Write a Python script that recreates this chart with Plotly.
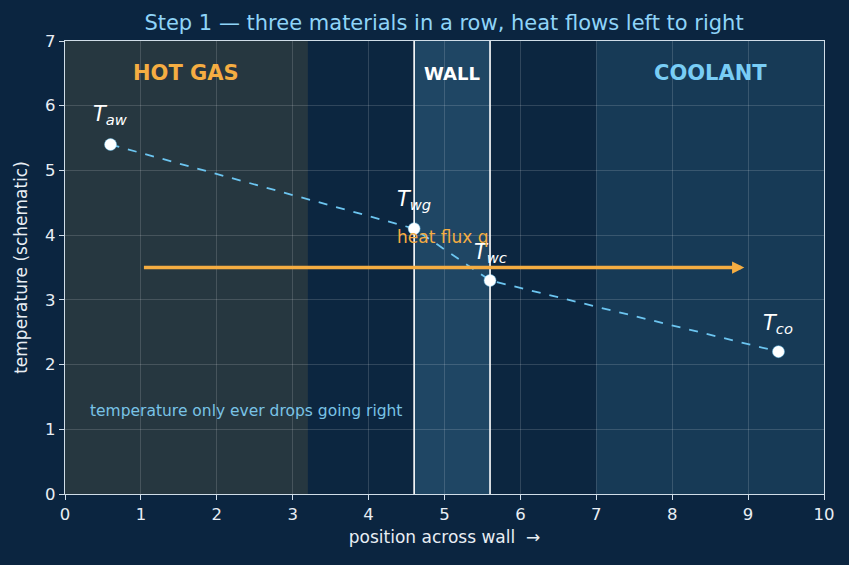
import plotly.graph_objects as go

# ---- data ----
pos_x = [0.6, 4.6, 5.6, 9.4]
temp_y = [5.4, 4.1, 3.3, 2.2]
point_labels = ["aw", "wg", "wc", "co"]
label_y = [5.85, 4.55, 3.72, 2.62]

region_x0 = [0.0, 4.6, 7.0]
region_x1 = [3.2, 5.6, 10.0]
region_names = ["HOT GAS", "WALL", "COOLANT"]
region_label_x = [1.6, 5.1, 8.5]
region_label_y = 6.5

wall_edges = [4.6, 5.6]
arrow_x = [1.02, 8.95]
arrow_y = 3.5
flux_label_pos = (4.35, 3.97)
note_pos = (0.3, 1.28)

x_ticks = list(range(0, 11))
y_ticks = list(range(0, 8))

BG = "#0b2540"
FONT = "DejaVu Sans"
fig = go.Figure()

region_fill = ["#263740", "#1f4664", "#173a56"]
region_text_color = ["#f5ad42", "#ffffff", "#79cdf5"]
region_font_size = [21, 18, 21]
for x0, x1, c in zip(region_x0, region_x1, region_fill):
    fig.add_shape(type="rect", xref="x", yref="y", x0=x0, x1=x1, y0=0, y1=7,
                  fillcolor=c, line=dict(width=0), layer="below")
for xe in wall_edges:
    fig.add_shape(type="line", xref="x", yref="y", x0=xe, x1=xe, y0=0, y1=7,
                  line=dict(color="#ffffff", width=1.6), layer="above")

fig.add_trace(go.Scatter(x=pos_x, y=temp_y, mode="lines+markers",
                         line=dict(color="#6cc5f0", width=1.8, dash="dash"),
                         marker=dict(color="#ffffff", size=12,
                                     line=dict(color="#6cc5f0", width=0.5)),
                         showlegend=False, hoverinfo="skip"))

# arrow
fig.add_annotation(x=arrow_x[1], y=arrow_y, ax=arrow_x[0], ay=arrow_y,
                   xref="x", yref="y", axref="x", ayref="y", text="",
                   showarrow=True, arrowhead=2, arrowsize=0.7, arrowwidth=3.5,
                   arrowcolor="#f5ad42")

for name, lx, tc, fs in zip(region_names, region_label_x, region_text_color, region_font_size):
    fig.add_annotation(x=lx, y=region_label_y, xref="x", yref="y",
                       text=f"<b>{name}</b>", showarrow=False,
                       font=dict(family=FONT, size=fs, color=tc))

for px, ly, lab in zip(pos_x, label_y, point_labels):
    fig.add_annotation(x=px, y=ly, xref="x", yref="y",
                       text=f"<i>T<sub>{lab}</sub></i>", showarrow=False,
                       font=dict(family=FONT, size=21, color="#ffffff"))

fig.add_annotation(x=flux_label_pos[0], y=flux_label_pos[1], xref="x", yref="y",
                   text="heat flux q", showarrow=False, xanchor="left",
                   font=dict(family=FONT, size=17, color="#f5ad42"))
fig.add_annotation(x=note_pos[0], y=note_pos[1], xref="x", yref="y",
                   text="temperature only ever drops going right", showarrow=False,
                   xanchor="left", font=dict(family=FONT, size=15.5, color="#79c3e6"))

axis_common = dict(showline=True, mirror=True, linecolor="#d0dde8", linewidth=1.3,
                   ticks="outside", ticklen=5, tickcolor="#d0dde8",
                   showgrid=True, gridcolor="rgba(255,255,255,0.15)", gridwidth=1,
                   zeroline=False, tickfont=dict(family=FONT, size=16.5, color="#e8eef4"))

fig.update_xaxes(range=[0, 10], tickvals=x_ticks,
                 title=dict(text="position across wall  →", standoff=8,
                            font=dict(family=FONT, size=17, color="#e8eef4")),
                 **axis_common)
fig.update_yaxes(range=[0, 7], tickvals=y_ticks,
                 title=dict(text="temperature (schematic)", standoff=13,
                            font=dict(family=FONT, size=17, color="#e8eef4")),
                 **axis_common)

fig.update_layout(
    width=849, height=565,
    paper_bgcolor=BG, plot_bgcolor="#0c2640",
    margin=dict(l=65, r=25, t=41, b=71),
    title=dict(text="Step 1 — three materials in a row, heat flows left to right",
               x=0.523, xanchor="center", y=0.96, yanchor="middle",
               font=dict(family=FONT, size=21, color="#8fd4f8")),
)

fig.write_html("out.html")
